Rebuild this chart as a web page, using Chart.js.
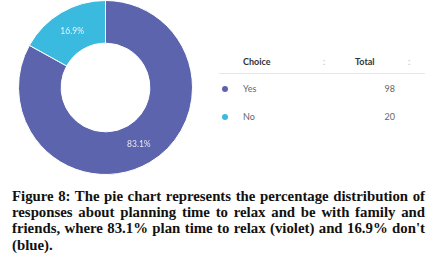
<!DOCTYPE html>
<html>
<head>
<meta charset="utf-8">
<script src="https://cdn.jsdelivr.net/npm/chart.js@4.4.1/dist/chart.umd.min.js"></script>
<style>
  html, body { margin: 0; padding: 0; background: #fff; width: 441px; height: 265px; overflow: hidden; }
  #chartBox { position: absolute; left: 0; top: 0; width: 211px; height: 175px; }
  #table { position: absolute; left: 219px; top: 51px; width: 206px; font-family: Lato, sans-serif; font-size: 9px; color: #666; }
  .hdr { position: relative; height: 22px; border-bottom: 1px solid #e6e6e6; color: #333; font-weight: bold; }
  .row { position: relative; height: 28px; }
  .cell { position: absolute; top: 5px; }
  .row .cell { top: 9px; }
  .dot { position: absolute; left: 3px; top: 12px; width: 6px; height: 6px; border-radius: 50%; }
  .colon { color: #bbb; font-weight: normal; }
  #caption { position: absolute; left: 12px; top: 188px; width: 413px; font-family: "Liberation Serif", serif; font-weight: bold; font-size: 14.8px; line-height: 16.2px; color: #111; }
  #caption div { text-align: justify; text-align-last: justify; white-space: nowrap; }
  #caption div.last { text-align-last: left; }
</style>
</head>
<body>
<div id="chartBox"><canvas id="pie"></canvas></div>
<div id="table"></div>
<div id="caption">
  <div>Figure 8: The pie chart represents the percentage distribution of</div>
  <div>responses about planning time to relax and be with family and</div>
  <div>friends, where 83.1% plan time to relax (violet) and 16.9% don't</div>
  <div class="last">(blue).</div>
</div>
<script>
const choices = ["Yes", "No"];
const totals = [98, 20];
const colors = ["#5c64ad", "#3bbae0"];

const sum = totals.reduce((a, b) => a + b, 0);

// percentage labels drawn at the middle of each arc
const pctLabels = {
    id: "pctLabels",
    afterDatasetsDraw(chart) {
        const ctx = chart.ctx;
        const meta = chart.getDatasetMeta(0);
        ctx.save();
        ctx.font = "8.5px Lato, sans-serif";
        ctx.fillStyle = "rgba(255,255,255,0.85)";
        ctx.textAlign = "center";
        ctx.textBaseline = "middle";
        meta.data.forEach((arc, i) => {
            const p = arc.tooltipPosition();
            const pct = (totals[i] / sum * 100).toFixed(1) + "%";
            ctx.fillText(pct, p.x, p.y);
        });
        ctx.restore();
    },
};

new Chart(document.getElementById("pie"), {
    type: "doughnut",
    data: {
        labels: choices,
        datasets: [{
            data: totals,
            backgroundColor: colors,
            borderColor: "#fff",
            borderWidth: 1,
        }],
    },
    options: {
        responsive: true,
        maintainAspectRatio: false,
        animation: false,
        cutout: "51%",
        layout: { padding: 0 },
        plugins: {
            legend: { display: false },
            tooltip: { enabled: false },
        },
    },
    plugins: [pctLabels],
});

// side table
const table = document.getElementById("table");
let html = '<div class="hdr">' +
    '<span class="cell" style="left:24px">Choice</span>' +
    '<span class="cell colon" style="left:104px">:</span>' +
    '<span class="cell" style="left:136px">Total</span>' +
    '<span class="cell colon" style="left:189px">:</span></div>';
choices.forEach((c, i) => {
    html += '<div class="row">' +
        '<span class="dot" style="background:' + colors[i] + '"></span>' +
        '<span class="cell" style="left:24px">' + c + '</span>' +
        '<span class="cell" style="right:30px">' + totals[i] + '</span></div>';
});
table.innerHTML = html;
</script>
</body>
</html>
